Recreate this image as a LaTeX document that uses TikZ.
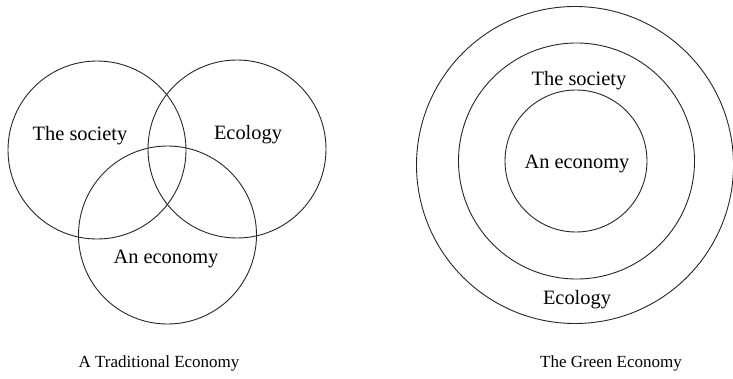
\documentclass[tikz,border=0pt]{standalone}
\usepackage{fontspec}
\setmainfont{Liberation Serif}
\newfontfamily\timesfont{Liberation Serif}
\begin{document}
\begin{tikzpicture}[x=1pt,y=-1pt,
  ring/.style={draw=black!85, line width=0.9pt, circle, inner sep=0pt},
  lbl/.style={font=\timesfont\fontsize{20.4}{24}\selectfont, inner sep=0pt},
  captext/.style={font=\timesfont\fontsize{17}{20}\selectfont, inner sep=0pt}]
\useasboundingbox (0,0) rectangle (733,378);
% Traditional economy (Venn)
\node[ring, minimum size=178pt] (soc) at (97,150) {};
\node[ring, minimum size=178pt] (eco) at (237,149) {};
\node[ring, minimum size=178pt] (econ) at (167.5,235) {};
\node[lbl] (tsoc) at (80,136) {The society};
\node[lbl] (teco) at (248,135) {Ecology};
\node[lbl] (tecon) at (166,259) {An economy};
\node[captext] (capl) at (159,363) {A Traditional Economy};
% Green economy (nested)
\node[ring, minimum size=317pt] (outer) at (575,165) {};
\node[ring, minimum size=236pt] (mid) at (576.5,161) {};
\node[ring, minimum size=142pt] (inner) at (576,161) {};
\node[lbl] (gsoc) at (579,81) {The society};
\node[lbl] (gecon) at (577,164) {An economy};
\node[lbl] (geco) at (577,300) {Ecology};
\node[captext] (capr) at (611,363) {The Green Economy};
\end{tikzpicture}
\end{document}
